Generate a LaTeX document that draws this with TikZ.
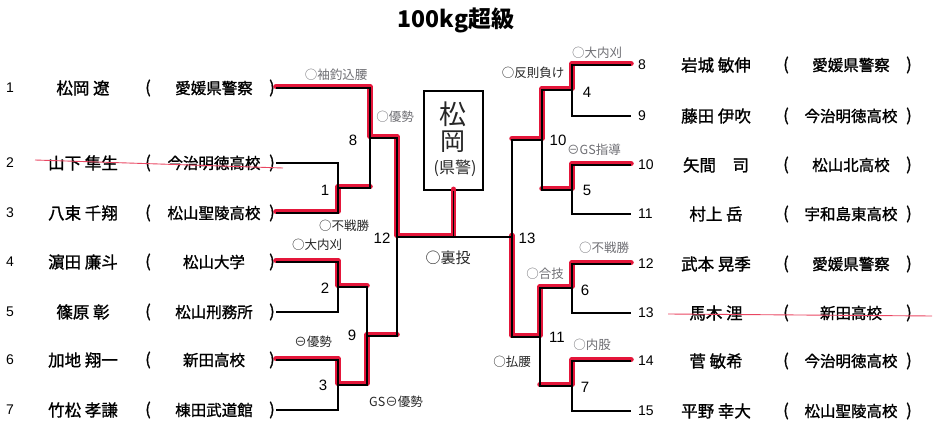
\documentclass[tikz,border=0pt]{standalone}
\usepackage{fontspec}
\setmainfont{Liberation Sans}
\newfontfamily\jp{Noto Sans CJK JP}
\newfontfamily\jpn[RawFeature={embolden=1.2}]{Noto Sans CJK JP}
\definecolor{winred}{RGB}{228,22,58}
\definecolor{penink}{RGB}{110,110,115}
\begin{document}
\begin{tikzpicture}[x=1pt,y=-1pt,
        numlbl/.style={font=\fontsize{14}{14}\selectfont, inner sep=2pt},
        namelbl/.style={font=\jpn\fontsize{16.5}{16.5}\selectfont, inner sep=1pt},
        schlbl/.style={font=\jpn\fontsize{15.5}{15.5}\selectfont, inner sep=1pt},
        matchlbl/.style={font=\fontsize{15}{15}\selectfont, inner sep=1pt},
        annot/.style={font=\jp\fontsize{12.5}{12.5}\selectfont, text=penink, inner sep=0pt},
        annotdark/.style={annot, text=black!85},
        bline/.style={draw=black, line width=1.6pt},
        win/.style={draw=winred, line width=5.5pt, line join=round, line cap=round,
          transform canvas={yshift=1.5pt}},
        strike/.style={draw=winred!80, line width=0.9pt}
      ]
      \useasboundingbox (0,0) rectangle (938,425);
      \node[font=\jp\bfseries\fontsize{23}{23}\selectfont] (title) at (456,20) {100kg超級};
      % left side entries
      \foreach \n/\nm/\sc/\y in {%
        1/松岡 遼/愛媛県警察/88,
        2/山下 隼生/今治明徳高校/163,
        3/八束 千翔/松山聖陵高校/213,
        4/濵田 廉斗/松山大学/262,
        5/篠原 彰/松山刑務所/312,
        6/加地 翔一/新田高校/360,
        7/竹松 孝謙/棟田武道館/410%
      }{
        \node[numlbl] (ln\n) at (10,\y) {\n};
        \node[namelbl] (lnm\n) at (83,\y) {\nm};
        \node[namelbl] (lpo\n) at (148,\y) {(};
        \node[schlbl] (lsc\n) at (214,\y) {\sc};
        \node[namelbl] (lpc\n) at (272,\y) {)};
      }
      % right side entries
      \foreach \n/\nm/\sc/\y in {%
        8/岩城 敏伸/愛媛県警察/65,
        9/藤田 伊吹/今治明徳高校/116,
        10/矢間　司/松山北高校/165,
        11/村上 岳/宇和島東高校/214,
        12/武本 晃季/愛媛県警察/264,
        13/馬木 浬/新田高校/313,
        14/菅 敏希/今治明徳高校/361,
        15/平野 幸大/松山聖陵高校/411%
      }{
        \node[numlbl, anchor=west, inner xsep=7pt] (rn\n) at (631,\y) {\n};
        \node[namelbl] (rnm\n) at (716,\y) {\nm};
        \node[namelbl] (rpo\n) at (786,\y) {(};
        \node[schlbl] (rsc\n) at (851,\y) {\sc};
        \node[namelbl] (rpc\n) at (909,\y) {)};
      }
      % match points
      \coordinate (m1) at (338,188);
      \coordinate (m2) at (338,287);
      \coordinate (m3) at (338,385);
      \coordinate (m8) at (370,138);
      \coordinate (m9) at (367,336);
      \coordinate (m12) at (397,237);
      \coordinate (m4) at (572,90);
      \coordinate (m5) at (572,190);
      \coordinate (m6) at (572,288);
      \coordinate (m7) at (572,386);
      \coordinate (m10) at (542,140);
      \coordinate (m11) at (540,337);
      \coordinate (m13) at (512,237);
      \node[draw, line width=1.6pt, minimum width=59pt, minimum height=99pt] (champ) at (453.5,140.5) {};
      \coordinate (fin) at (champ.south |- m12);
      % winners
      \draw[win] (lpc1.east) -| (m8) -| (m12) -- (fin) -- (champ.south);
      \draw[win] (lpc3.east) -| (m1) -- (m1 -| m8);
      \draw[win] (lpc4.east) -| (m2) -- (m2 -| m9);
      \draw[win] (lpc6.east) -| (m3) -| (m9) -- (m9 -| m12);
      \draw[win] (rn8.west) -| (m4) -| (m10) -- (m10 -| m13);
      \draw[win] (rn10.west) -| (m5) -- (m5 -| m10);
      \draw[win] (rn12.west) -| (m6) -| (m11) -| (m13);
      \draw[win] (rn14.west) -| (m7) -- (m7 -| m11);
      % bracket
      \draw[bline] (lpc2.east) -| (m1) |- (lpc3.east);
      \draw[bline] (lpc4.east) -| (m2) |- (lpc5.east);
      \draw[bline] (lpc6.east) -| (m3) |- (lpc7.east);
      \draw[bline] (lpc1.east) -| (m8) |- (m1);
      \draw[bline] (m2) -| (m9) |- (m3);
      \draw[bline] (m8) -| (m12) |- (m9);
      \draw[bline] (rn8.west) -| (m4) |- (rn9.west);
      \draw[bline] (rn10.west) -| (m5) |- (rn11.west);
      \draw[bline] (rn12.west) -| (m6) |- (rn13.west);
      \draw[bline] (rn14.west) -| (m7) |- (rn15.west);
      \draw[bline] (m4) -| (m10) |- (m5);
      \draw[bline] (m6) -| (m11) |- (m7);
      \draw[bline] (m10) -| (m13) |- (m11);
      \draw[bline] (m12) -- (m13);
      \draw[bline] (champ.south) -- (fin);
      % match numbers
      \foreach \lbl/\x/\y in {1/325/190, 2/325/288, 3/323/385, 8/353/140,
        9/352/335, 12/382/238, 4/587/92, 5/587/190, 6/585/290, 7/585/387,
        10/558/140, 11/557/337, 13/527/238} {
        \node[matchlbl] (ml\lbl) at (\x,\y) {\lbl};
      }
      % champion
      \node[annotdark, font=\jp\fontsize{27}{27}\selectfont] (chm1) at (453,114) {松};
      \node[annotdark, font=\jp\fontsize{25}{25}\selectfont] (chm2) at (453,142) {岡};
      \node[annotdark, font=\jp\fontsize{16}{16}\selectfont] (chm3) at (455,168) {(県警)};
      % results
      \node[annot] (r1) at (336,75) {○袖釣込腰};
      \node[annot] (r8) at (395,117) {○優勢};
      \node[annotdark] (r1b) at (344,226) {○不戦勝};
      \node[annotdark] (r2) at (317,245) {○大内刈};
      \node[annotdark] (r3) at (313,342) {⊖優勢};
      \node[annotdark] (r9) at (396,402) {GS⊖優勢};
      \node[annotdark, font=\jp\fontsize{15}{15}\selectfont] (r13) at (448,258) {○裏投};
      \node[annotdark] (r10) at (533,73) {○反則負け};
      \node[annot] (r4) at (597,53) {○大内刈};
      \node[annot] (r5) at (594,150) {⊖GS指導};
      \node[annot] (r6) at (604,248) {○不戦勝};
      \node[annot] (r11) at (545,274) {○合技};
      \node[annot] (r7) at (592,345) {○内股};
      \node[annotdark] (r11b) at (512,362) {○払腰};
      % withdrawn
      \draw[strike] (35,160) -- (283,168);
      \draw[strike] (668,314) -- (932,316);
    \end{tikzpicture}
\end{document}
